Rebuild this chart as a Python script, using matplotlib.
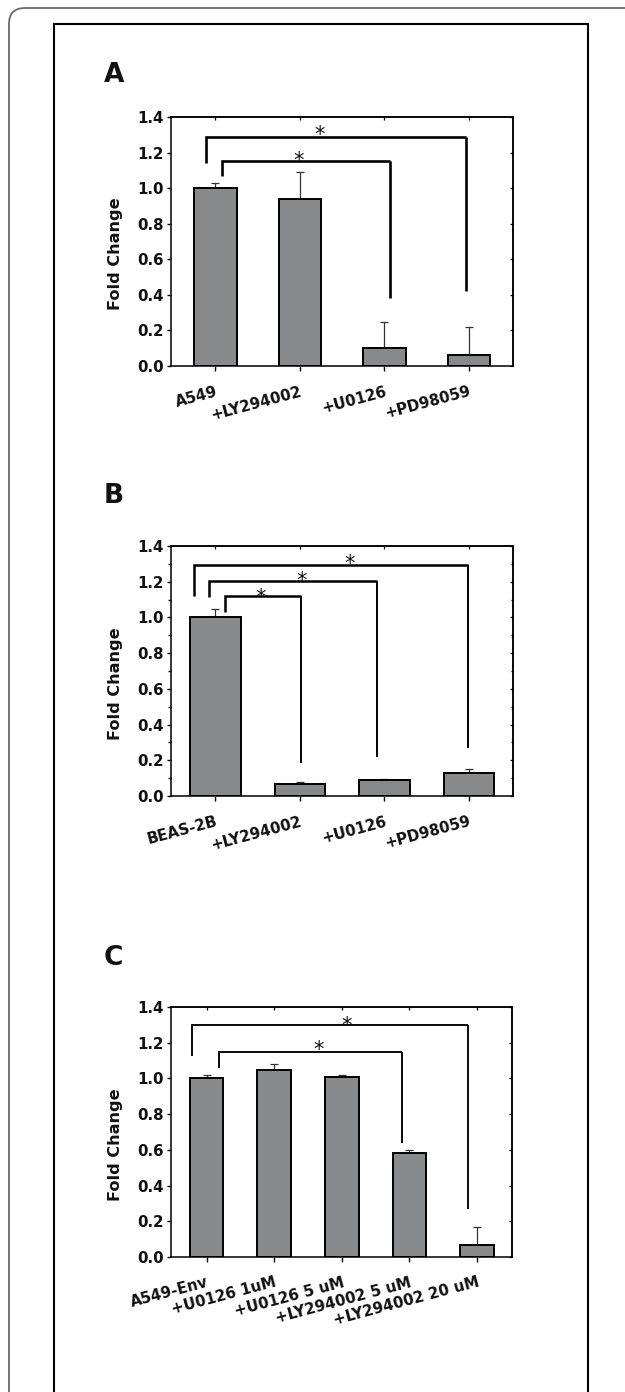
import numpy as np
import matplotlib
matplotlib.use("Agg")
import matplotlib.pyplot as plt
from matplotlib.lines import Line2D
from matplotlib.patches import FancyBboxPatch
from matplotlib.ticker import MultipleLocator, NullFormatter, FixedLocator
from matplotlib.transforms import ScaledTranslation

# ---------------- data ----------------
a_labels = ['A549', '+LY294002', '+U0126', '+PD98059']
a_values = [1.00, 0.94, 0.10, 0.06]
a_errors = [0.03, 0.15, 0.15, 0.16]

b_labels = ['BEAS-2B', '+LY294002', '+U0126', '+PD98059']
b_values = [1.00, 0.07, 0.09, 0.13]
b_errors = [0.05, 0.01, 0.007, 0.02]

c_labels = ['A549-Env', '+U0126 1uM', '+U0126 5 uM', '+LY294002 5 uM', '+LY294002 20 uM']
c_values = [1.00, 1.05, 1.01, 0.58, 0.07]
c_errors = [0.02, 0.03, 0.01, 0.02, 0.10]

y_ticks = [0.0, 0.2, 0.4, 0.6, 0.8, 1.0, 1.2, 1.4]

# significance brackets: (x_left, x_right, y_top, y_left_end, y_right_end, star_x, star_y)
a_brackets = [(-0.11, 2.97, 1.29, 1.14, 0.42, 1.23, 1.335),
              (0.08, 2.07, 1.152, 1.068, 0.38, 0.99, 1.19)]
b_brackets = [(-0.25, 2.99, 1.294, 1.12, 0.267, 1.59, 1.337),
              (-0.076, 1.91, 1.204, 1.116, 0.217, 1.02, 1.238),
              (0.118, 1.01, 1.122, 1.03, 0.183, 0.54, 1.144)]
c_brackets = [(-0.22, 3.86, 1.297, 1.125, 0.27, 2.07, 1.33),
              (0.18, 2.89, 1.146, 1.06, 0.636, 1.66, 1.197)]

# ---------------- style ----------------
W, H, DPI = 625, 1392, 100
plt.rcParams['font.family'] = ['DejaVu Sans']
plt.rcParams['font.weight'] = 'bold'
BAR = '#88898b'
TXT = '#111111'

fig = plt.figure(figsize=(W / DPI, H / DPI), dpi=DPI)
fig.patch.set_facecolor('white')


def px_rect(x0, y0, x1, y1):
    return [x0 / W, 1 - y1 / H, (x1 - x0) / W, (y1 - y0) / H]


def panel(rect, labels, values, errors, bw, brackets, lw_h, lw_r, minor,
          letter, letter_xy):
    ax = fig.add_axes(px_rect(*rect))
    n = len(values)
    x = np.arange(n)
    ax.bar(x, values, bw, color=BAR, edgecolor='black', linewidth=1.4, zorder=2)
    ax.errorbar(x, values, yerr=[np.zeros(n), errors], fmt='none', ecolor='#333333',
                elinewidth=0.9, capsize=3, capthick=0.9, zorder=1)
    ax.set_xlim(-0.52, n - 1 + 0.52)
    ax.set_ylim(0, 1.4)
    ax.set_yticks(y_ticks)
    ax.set_yticklabels(['%.1f' % v for v in y_ticks], fontsize=10.8,
                       fontweight='bold', color=TXT)
    ax.set_xticks(x)
    ax.set_xticklabels(labels, rotation=15, ha='right', rotation_mode='anchor',
                       fontsize=10.8, fontweight='bold', color=TXT)
    off = ScaledTranslation(3 / DPI, 0, fig.dpi_scale_trans)
    for t in ax.get_xticklabels():
        t.set_transform(t.get_transform() + off)
    for s in ax.spines.values():
        s.set_linewidth(1.1)
    ax.tick_params(axis='y', which='major', direction='out', length=3.2, width=1.0,
                   pad=2, right=False)
    ax.tick_params(axis='x', which='major', direction='out', length=3.8, width=1.0,
                   pad=9, top=False)
    if minor:
        ax.yaxis.set_minor_locator(MultipleLocator(0.1))
        ax.tick_params(axis='y', which='minor', direction='out', length=2.0,
                       width=1.0, right=False)
    # right ticks (inward)
    sy = ax.secondary_yaxis('right')
    sy.yaxis.set_major_locator(FixedLocator(y_ticks))
    sy.yaxis.set_major_formatter(NullFormatter())
    sy.tick_params(axis='y', which='major', direction='in', length=2.5, width=0.9)
    if minor:
        sy.yaxis.set_minor_locator(MultipleLocator(0.1))
        sy.tick_params(axis='y', which='minor', direction='in', length=1.8, width=0.9)
    sy.spines['right'].set_linewidth(1.1)
    # top ticks (inward)
    sx = ax.secondary_xaxis('top')
    sx.xaxis.set_major_locator(FixedLocator(list(x)))
    sx.xaxis.set_major_formatter(NullFormatter())
    sx.tick_params(axis='x', which='major', direction='in', length=2.5, width=0.9)
    sx.spines['top'].set_linewidth(1.1)

    ax.set_ylabel('Fold Change', fontsize=11.6, fontweight='bold', color=TXT,
                  labelpad=10.5, y=0.45)

    for (xl, xr, yt, yl, yr, stx, sty) in brackets:
        ax.plot([xl, xl, xr], [yl, yt, yt], color='black', lw=lw_h,
                solid_joinstyle='miter', solid_capstyle='butt', zorder=3,
                clip_on=False)
        ax.plot([xr, xr], [yt, yr], color='black', lw=lw_r,
                solid_capstyle='butt', zorder=3, clip_on=False)
        ax.annotate('*', (stx, sty), xytext=(0, -0.6 * 15), textcoords='offset points',
                    ha='center', va='baseline', fontsize=15, fontweight='normal',
                    color=TXT)

    fig.text(letter_xy[0] / W, 1 - letter_xy[1] / H, letter, fontsize=19,
             fontweight='bold', color=TXT, ha='left', va='baseline')
    return ax


panel((171.4, 117, 513, 366), a_labels, a_values, a_errors, 0.5, a_brackets,
      1.9, 1.9, False, 'A', (104, 82))
panel((171.4, 546, 513, 796), b_labels, b_values, b_errors, 0.6, b_brackets,
      1.8, 1.4, True, 'B', (104, 503))
panel((171.4, 1007, 512.2, 1257), c_labels, c_values, c_errors, 0.5, c_brackets,
      1.35, 1.35, False, 'C', (104, 965))

# ---------------- frames ----------------
px = fig.dpi_scale_trans
outer = FancyBboxPatch((9 / DPI, -1.0), 8.0, (H - 8) / DPI + 1.0,
                       boxstyle='round,pad=0,rounding_size=0.16',
                       transform=px, facecolor='none', edgecolor='#6a6a6a',
                       linewidth=1.3)
fig.add_artist(outer)
x0, x1, yt = 53.8 / DPI, 588 / DPI, (H - 24) / DPI
fig.add_artist(Line2D([x0, x0, x1, x1], [-0.5, yt, yt, -0.5], transform=px,
                      color='black', linewidth=1.5, solid_joinstyle='miter'))

fig.savefig('out.png', dpi=DPI, facecolor='white')
